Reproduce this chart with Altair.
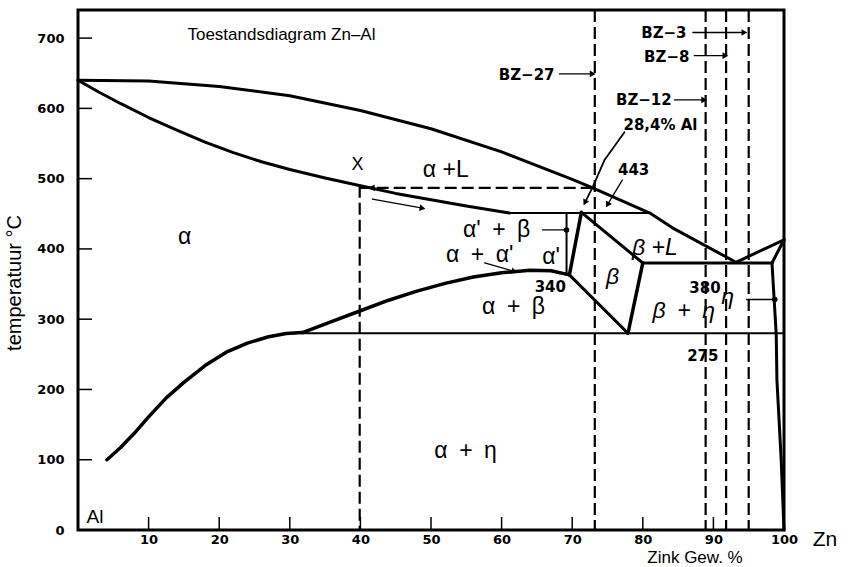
import math
import altair as alt
import pandas as pd

# ---- phase boundaries (Zn weight %, temperature °C) ----
liquidus_zn = [0, 10, 20, 30, 40, 50, 60, 70, 72.9, 81, 84.2, 93.2]
liquidus_t = [640, 639, 631, 618, 597, 571, 538, 499, 487, 451, 430, 381]
zn_liquidus_zn = [93.2, 100]
zn_liquidus_t = [381, 413]
solidus_zn = [0, 3, 6, 10, 14, 18, 22, 26, 30, 35, 40, 45, 50, 55, 61.1]
solidus_t = [640, 623, 607, 587, 569, 552, 537, 524, 513, 501, 490, 479, 470, 461, 451]
peritectic_zn = [61.1, 81]
peritectic_t = [451, 451]
solvus_zn = [4.1, 6, 8, 10, 12.5, 15, 18, 21, 24, 27, 29.5, 31.8]
solvus_t = [100, 117, 138, 161, 188, 210, 234, 253, 266, 275, 279.5, 281]
dome_zn = [31.8, 36, 40, 44, 48, 52, 56, 60, 64, 67, 69.6]
dome_t = [281, 297, 312, 327, 340, 351, 360, 366, 369.5, 369, 363]
alpha_prime_zn = [69.2, 69.2]
alpha_prime_t = [451, 364]
beta_left_zn = [69.6, 71.3]
beta_left_t = [363, 452]
beta_top_zn = [71.3, 80]
beta_top_t = [452, 380]
beta_low_zn = [69.6, 77.9]
beta_low_t = [363, 280]
beta_right_zn = [80, 77.9]
beta_right_t = [380, 280]
eutectic_zn = [80, 98.3]
eutectic_t = [380, 380]
eta_top_zn = [98.3, 100]
eta_top_t = [380, 413]
eta_solvus_zn = [98.3, 98.9, 99.0, 99.6, 100]
eta_solvus_t = [380, 278, 213, 100, 0]
eutectoid_zn = [31.8, 100]
eutectoid_t = [280, 280]

# ---- alloy composition lines (dashed) ----
alloy_names = ["X", "BZ-27", "BZ-12", "BZ-8", "BZ-3"]
alloy_zn = [39.9, 73.2, 88.9, 91.8, 95.0]
alloy_top = [490, 740, 740, 740, 740]
tie_zn = [39.9, 72.9]
tie_t = [487, 487]

# ---- axis ticks ----
x_ticks = [10, 20, 30, 40, 50, 60, 70, 80, 90, 100]
y_ticks = [0, 100, 200, 300, 400, 500, 600, 700]

# ---- labels (text, Zn %, °C) ----
SP = "\u2002"
greek_labels = [
    ("α +L", 52.1, 512), ("α", 15.1, 417), (f"α'{SP}+{SP}β", 59.3, 427),
    (f"α{SP}+{SP}α'", 56.9, 392), ("α'", 67.0, 389), (f"α{SP}+{SP}β", 61.7, 318),
    (f"α{SP}+{SP}η", 54.9, 112),
]
greek_italic_labels = [("β", 75.7, 360), ("β +L", 81.7, 402), (f"β{SP}+{SP}η", 85.8, 311), ("η", 92.0, 331)]
num_labels = [("340", 66.9, 346), ("380", 88.8, 345), ("275", 88.5, 248), ("443", 78.7, 512), ("28,4% Al", 82.5, 576)]
bz_labels = [("BZ−27", 67.5, 648), ("BZ−3", 86.2, 707), ("BZ−8", 86.6, 673), ("BZ−12", 84.1, 612)]
plain_labels = [("X", 39.6, 519), ("Al", 1.2, 19)]

# arrows: (x0, t0, x1, t1, head)
arrows = [
    (68.2, 649, 72.9, 649, "tri"),
    (87.1, 708, 94.4, 708, "tri"),
    (87.3, 675, 91.7, 675, "tri"),
    (84.5, 612, 88.7, 612, "tri"),
    (77.1, 498, 75.0, 463, "tri"),
    (65.8, 427, 69.2, 427, "dot"),
    (57.6, 380, 61.8, 368, "tri"),
    (94.7, 328, 98.7, 328, "dot"),
    (41.7, 471, 48.8, 458, "tri"),
]
curve_arrow_zn = [77.4, 74.6, 72.9, 71.8]
curve_arrow_t = [566, 527, 488, 466]

W, H = 706, 520
XMAX, YMAX = 100, 740
SX, SY = W / XMAX, H / YMAX

# ---- build tables ----
rows = []
def add(name, xs, ts, w):
    for i, (x, t) in enumerate(zip(xs, ts)):
        rows.append({"seg": name, "ord": i, "zn": x, "t": t, "w": w})

add("liquidus", liquidus_zn, liquidus_t, 3)
add("znliq", zn_liquidus_zn, zn_liquidus_t, 3)
add("solidus", solidus_zn, solidus_t, 3)
add("peritectic", peritectic_zn, peritectic_t, 2)
add("solvus", solvus_zn, solvus_t, 3.5)
add("dome", dome_zn, dome_t, 3.5)
add("aprime", alpha_prime_zn, alpha_prime_t, 2)
add("bleft", beta_left_zn, beta_left_t, 3.5)
add("btop", beta_top_zn, beta_top_t, 3)
add("blow", beta_low_zn, beta_low_t, 3)
add("bright", beta_right_zn, beta_right_t, 3.5)
add("eutectic", eutectic_zn, eutectic_t, 3)
add("etatop", eta_top_zn, eta_top_t, 3)
add("etasolv", eta_solvus_zn, eta_solvus_t, 3)
add("eutectoid", eutectoid_zn, eutectoid_t, 2)
add("curvearrow", curve_arrow_zn, curve_arrow_t, 1.8)
for k, (x0, t0, x1, t1, h) in enumerate(arrows):
    add(f"arrow{k}", [x0, x1], [t0, t1], 1.3)
solid = pd.DataFrame(rows)

drows = []
for n, x, top in zip(alloy_names, alloy_zn, alloy_top):
    drows.append({"seg": n, "ord": 0, "zn": x, "t": top})
    drows.append({"seg": n, "ord": 1, "zn": x, "t": 0})
for i, (x, t) in enumerate(zip(tie_zn, tie_t)):
    drows.append({"seg": "tie", "ord": i, "zn": x, "t": t})
dashed = pd.DataFrame(drows)

def ang(x0, t0, x1, t1):
    return math.degrees(math.atan2(-(t1 - t0) * SY, (x1 - x0) * SX)) % 360

heads = []
dots = []
for x0, t0, x1, t1, h in arrows:
    if h == "tri":
        heads.append({"zn": x1, "t": t1, "a": ang(x0, t0, x1, t1)})
    else:
        dots.append({"zn": x1, "t": t1})
heads.append({"zn": curve_arrow_zn[-1], "t": curve_arrow_t[-1],
              "a": ang(curve_arrow_zn[-2], curve_arrow_t[-2], curve_arrow_zn[-1], curve_arrow_t[-1])})
heads.append({"zn": 41.6, "t": tie_t[0], "a": 180})
heads = pd.DataFrame(heads)
dots = pd.DataFrame(dots)

xs = alt.Scale(domain=[0, XMAX], nice=False, zero=False)
ys = alt.Scale(domain=[0, YMAX], nice=False, zero=False)
FONT = "Liberation Sans"
NUMFONT = "DejaVu Sans"

base_x = alt.X("zn:Q", scale=xs, axis=alt.Axis(
    values=x_ticks, title=None, ticks=False, domain=False, grid=False,
    labelFont=NUMFONT, labelFontWeight="bold", labelFontSize=13, labelPadding=3,
    labelColor="black", labelFlush=False))
base_y = alt.Y("t:Q", scale=ys, axis=alt.Axis(
    values=y_ticks, title=None, ticks=False, domain=False, grid=False,
    labelFont=NUMFONT, labelFontWeight="bold", labelFontSize=13, labelPadding=14,
    labelColor="black", labelFlush=False))

solid_layer = alt.Chart(solid).mark_line(color="black", strokeCap="round", strokeJoin="round").encode(
    x=base_x, y=base_y, detail="seg:N", order="ord:Q",
    strokeWidth=alt.StrokeWidth("w:Q", scale=None))

dashed_layer = alt.Chart(dashed).mark_line(color="black", strokeWidth=2.2, strokeDash=[12, 5]).encode(
    x=alt.X("zn:Q", scale=xs), y=alt.Y("t:Q", scale=ys), detail="seg:N", order="ord:Q")

head_layer = alt.Chart(heads).mark_point(shape="triangle-right", filled=True, color="black",
                                         size=45, opacity=1).encode(
    x=alt.X("zn:Q", scale=xs), y=alt.Y("t:Q", scale=ys), angle=alt.Angle("a:Q", scale=None))

dot_layer = alt.Chart(dots).mark_circle(color="black", size=30, opacity=1).encode(
    x=alt.X("zn:Q", scale=xs), y=alt.Y("t:Q", scale=ys))

ytick_df = pd.DataFrame({"t": y_ticks[1:]})
xtick_df = pd.DataFrame({"zn": x_ticks})
ytick_layer = alt.Chart(ytick_df).mark_rule(color="black", strokeWidth=1.5).encode(
    y=alt.Y("t:Q", scale=ys), x=alt.value(0), x2=alt.value(14))
xtick_layer = alt.Chart(xtick_df).mark_rule(color="black", strokeWidth=1.5).encode(
    x=alt.X("zn:Q", scale=xs), y=alt.value(H), y2=alt.value(H - 13))

def text_layer(items, size, weight="normal", style="normal", align="center", font=FONT):
    df = pd.DataFrame(items, columns=["label", "zn", "t"])
    return alt.Chart(df).mark_text(font=font, fontSize=size, fontWeight=weight, fontStyle=style,
                                   align=align, baseline="middle", color="black").encode(
        x=alt.X("zn:Q", scale=xs), y=alt.Y("t:Q", scale=ys), text="label:N")

texts = [
    text_layer(greek_labels, 23),
    text_layer(greek_italic_labels, 23, style="italic"),
    text_layer(num_labels, 15, weight="bold", font=NUMFONT),
    text_layer(bz_labels, 15, weight="bold", align="right", font=NUMFONT),
    text_layer([plain_labels[0]], 18),
    text_layer([plain_labels[1]], 19, align="left"),
    text_layer([("Toestandsdiagram Zn–Al", 15.5, 704)], 17, align="left"),
]

one = pd.DataFrame({"a": [0]})
def pixel_text(txt, px, py, size, angle=0, baseline="middle", font=FONT):
    return alt.Chart(one).mark_text(text=txt, font=font, fontSize=size, angle=angle,
                                    align="center", baseline=baseline, color="black").encode(
        x=alt.value(px), y=alt.value(py))

axis_titles = [
    pixel_text("Zink Gew. %", 617, 553, 17, baseline="alphabetic"),
    pixel_text("Zn", 747, 530, 21),
    pixel_text("temperatuur °C", -63, 273, 20, angle=270),
]

chart = alt.layer(solid_layer, dashed_layer, head_layer, dot_layer, ytick_layer, xtick_layer,
                  *texts, *axis_titles).properties(
    width=W, height=H,
    padding={"left": 78, "top": 10, "right": 69, "bottom": 37},
    autosize=alt.AutoSizeParams(type="none"),
    background="white",
).configure_view(stroke="black", strokeWidth=3)

chart.save("out.html", embed_options={"renderer": "svg", "actions": False})
